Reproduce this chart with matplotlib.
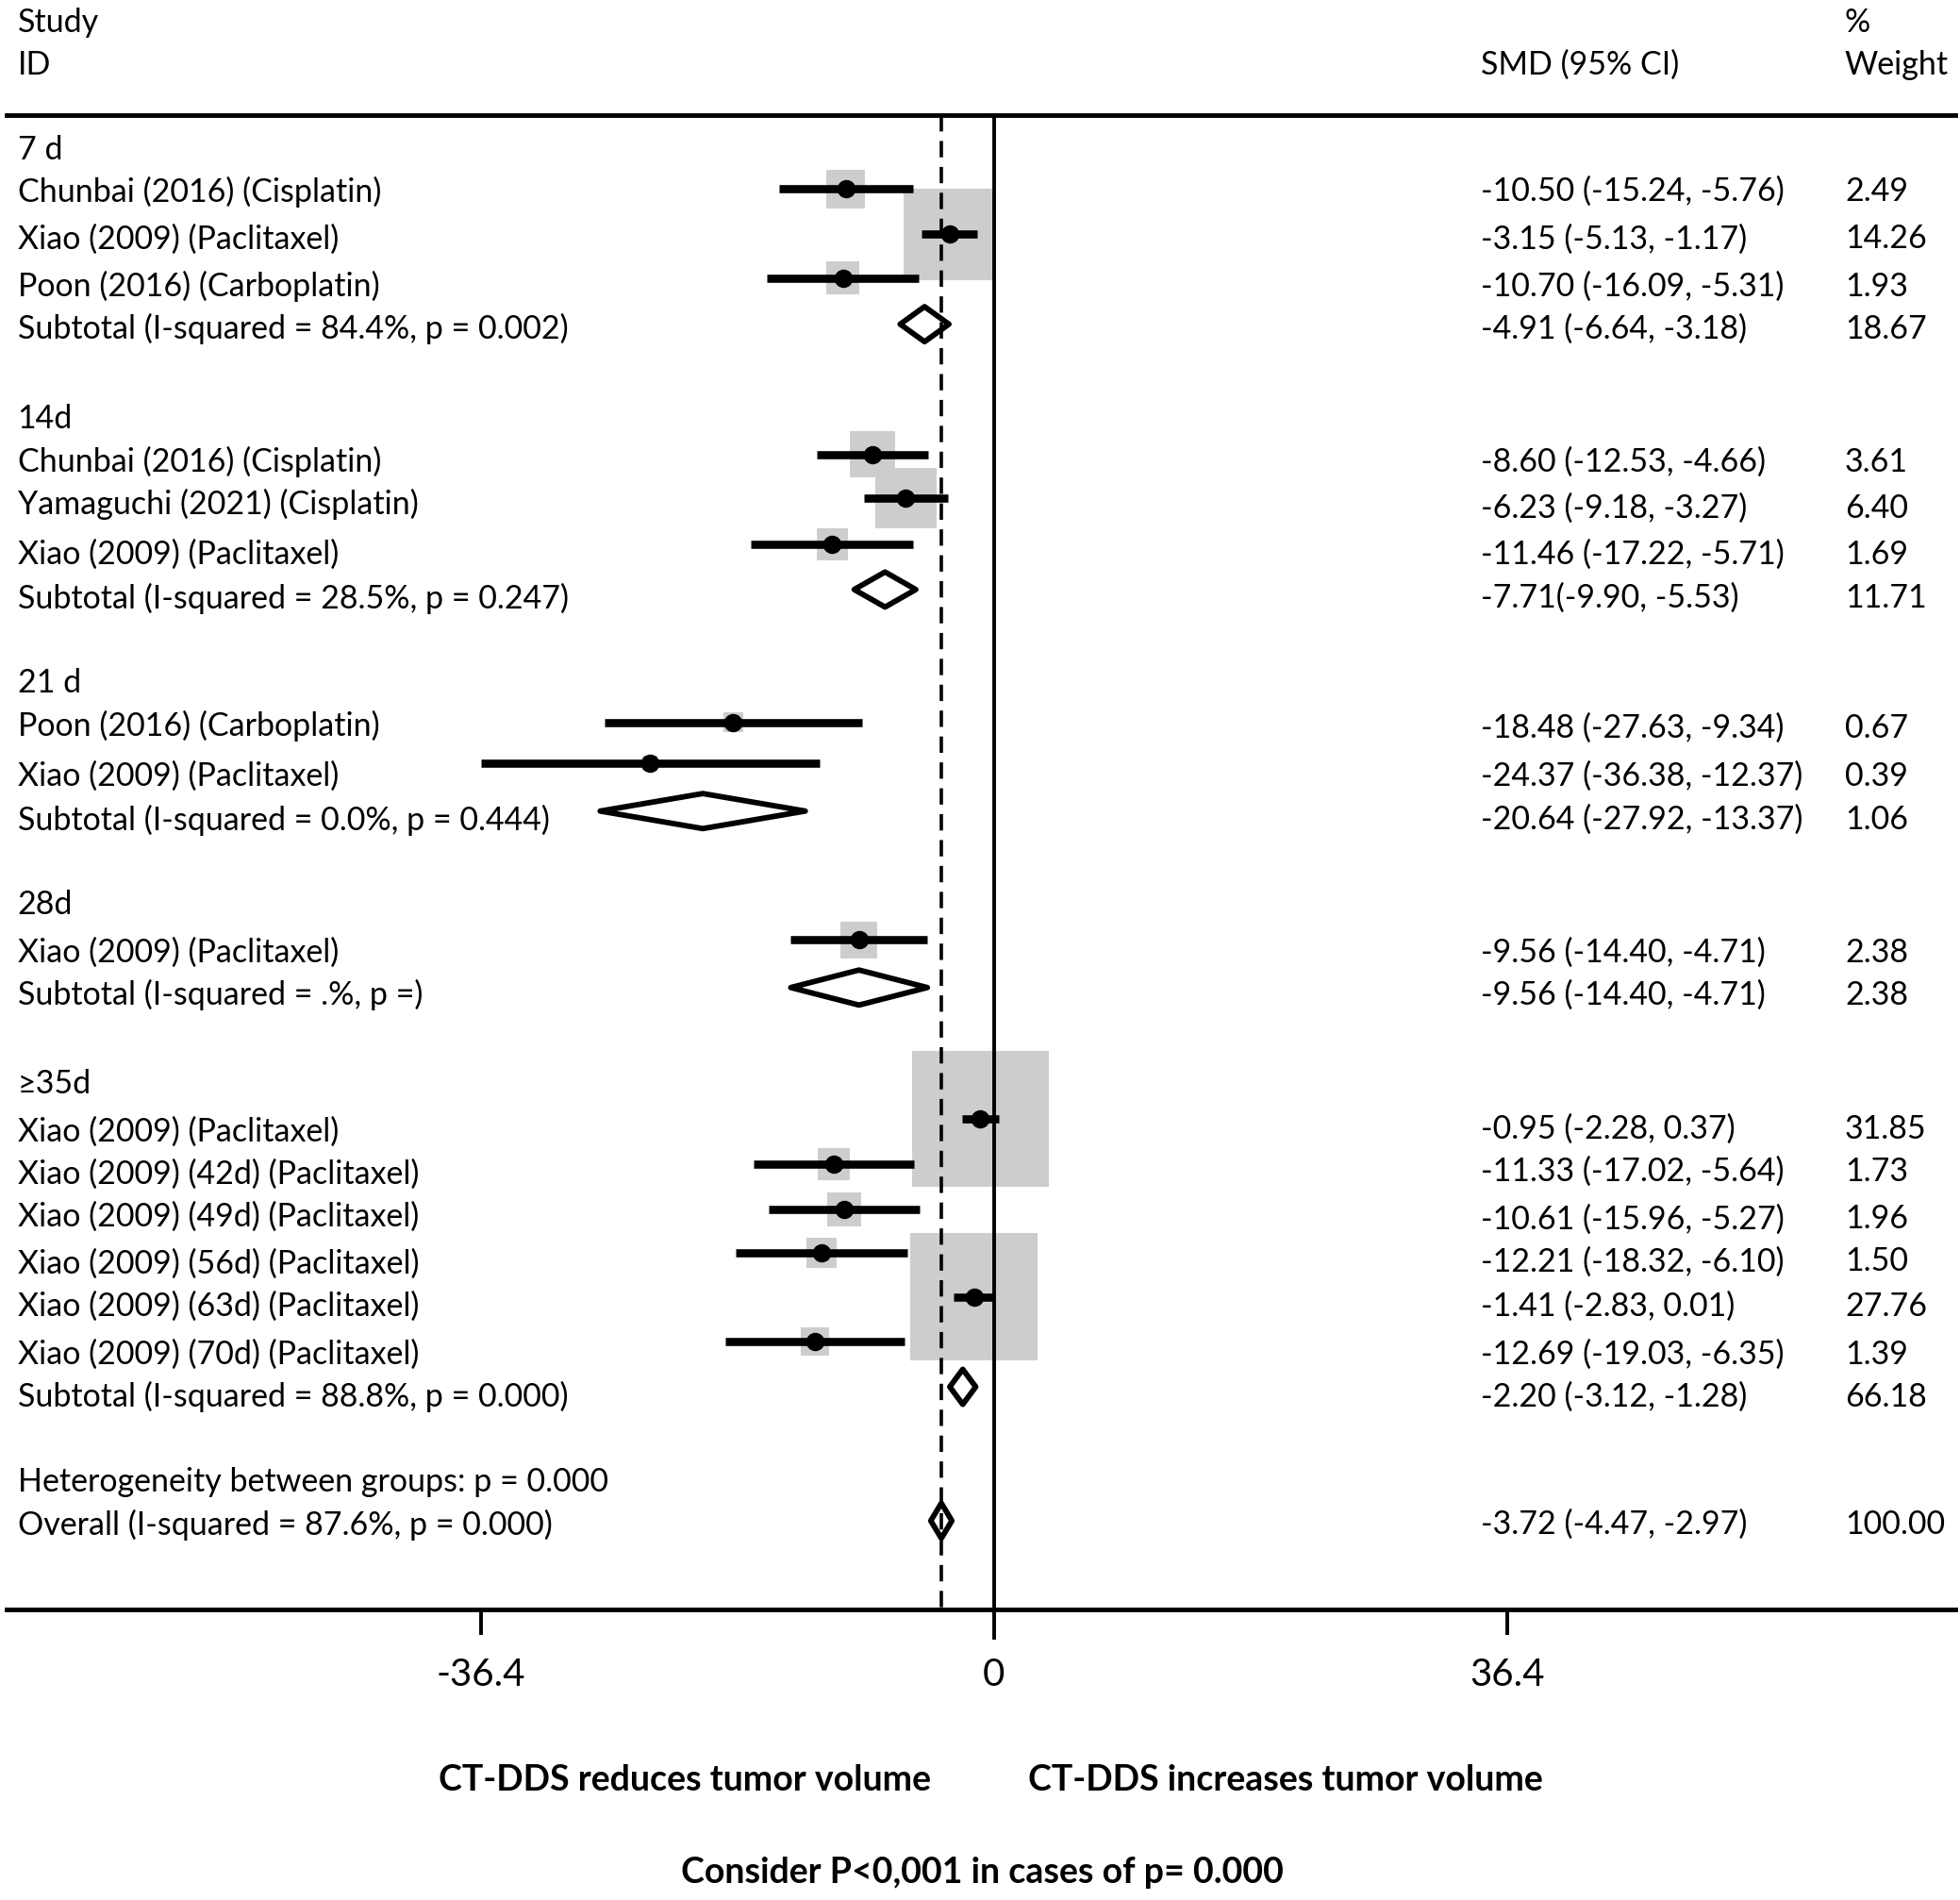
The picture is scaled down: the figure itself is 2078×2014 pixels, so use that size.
import matplotlib
matplotlib.use("Agg")
import matplotlib.pyplot as plt
from matplotlib.patches import Rectangle, Polygon
import numpy as np

plt.rcParams['font.family'] = ['Lato', 'DejaVu Sans']

# ---------------- data ----------------
group_labels = ["7 d", "14d", "21 d", "28d", "≥35d"]

study_labels = [
    "Chunbai (2016) (Cisplatin)", "Xiao (2009) (Paclitaxel)", "Poon (2016) (Carboplatin)",
    "Chunbai (2016) (Cisplatin)", "Yamaguchi (2021) (Cisplatin)", "Xiao (2009) (Paclitaxel)",
    "Poon (2016) (Carboplatin)", "Xiao (2009) (Paclitaxel)",
    "Xiao (2009) (Paclitaxel)",
    "Xiao (2009) (Paclitaxel)", "Xiao (2009) (42d) (Paclitaxel)", "Xiao (2009) (49d) (Paclitaxel)",
    "Xiao (2009) (56d) (Paclitaxel)", "Xiao (2009) (63d) (Paclitaxel)", "Xiao (2009) (70d) (Paclitaxel)",
]
study_est = [-10.50, -3.15, -10.70, -8.60, -6.23, -11.46, -18.48, -24.37, -9.56,
             -0.95, -11.33, -10.61, -12.21, -1.41, -12.69]
study_lo = [-15.24, -5.13, -16.09, -12.53, -9.18, -17.22, -27.63, -36.38, -14.40,
            -2.28, -17.02, -15.96, -18.32, -2.83, -19.03]
study_hi = [-5.76, -1.17, -5.31, -4.66, -3.27, -5.71, -9.34, -12.37, -4.71,
            0.37, -5.64, -5.27, -6.10, 0.01, -6.35]
study_weight = [2.49, 14.26, 1.93, 3.61, 6.40, 1.69, 0.67, 0.39, 2.38,
                31.85, 1.73, 1.96, 1.50, 27.76, 1.39]
study_ci_text = [
    "-10.50 (-15.24, -5.76)", "-3.15 (-5.13, -1.17)", "-10.70 (-16.09, -5.31)",
    "-8.60 (-12.53, -4.66)", "-6.23 (-9.18, -3.27)", "-11.46 (-17.22, -5.71)",
    "-18.48 (-27.63, -9.34)", "-24.37 (-36.38, -12.37)",
    "-9.56 (-14.40, -4.71)",
    "-0.95 (-2.28, 0.37)", "-11.33 (-17.02, -5.64)", "-10.61 (-15.96, -5.27)",
    "-12.21 (-18.32, -6.10)", "-1.41 (-2.83, 0.01)", "-12.69 (-19.03, -6.35)",
]
study_weight_text = ["2.49", "14.26", "1.93", "3.61", "6.40", "1.69", "0.67", "0.39", "2.38",
                     "31.85", "1.73", "1.96", "1.50", "27.76", "1.39"]

sub_labels = [
    "Subtotal (I-squared = 84.4%, p = 0.002)",
    "Subtotal (I-squared = 28.5%, p = 0.247)",
    "Subtotal (I-squared = 0.0%, p = 0.444)",
    "Subtotal (I-squared = .%, p =)",
    "Subtotal (I-squared = 88.8%, p = 0.000)",
]
sub_est = [-4.91, -7.71, -20.64, -9.56, -2.20]
sub_lo = [-6.64, -9.90, -27.92, -14.40, -3.12]
sub_hi = [-3.18, -5.53, -13.37, -4.71, -1.28]
sub_ci_text = ["-4.91 (-6.64, -3.18)", "-7.71(-9.90, -5.53)", "-20.64 (-27.92, -13.37)",
               "-9.56 (-14.40, -4.71)", "-2.20 (-3.12, -1.28)"]
sub_weight_text = ["18.67", "11.71", "1.06", "2.38", "66.18"]

het_label = "Heterogeneity between groups: p = 0.000"
overall_label = "Overall (I-squared = 87.6%, p = 0.000)"
overall_est, overall_lo, overall_hi = -3.72, -4.47, -2.97
overall_ci_text = "-3.72 (-4.47, -2.97)"
overall_weight_text = "100.00"

tick_values = [-36.4, 0, 36.4]
tick_labels = ["-36.4", "0", "36.4"]

# ---------------- layout (reference frame units, y downward) ----------------
W, H = 1566.0, 1518.0
PX_PER_UNIT = 11.264
X0 = 794.0
group_y = [120, 335, 546, 723, 866]
study_text_y = [153, 191, 229, 369, 403, 443, 580, 620, 761, 904, 938, 972, 1010, 1044, 1082]
study_mark_y = [151, 187, 222, 363, 398, 435, 577, 610, 751, 894, 930, 966, 1001, 1036, 1072]
study_val_y = [153, 191, 229, 369, 406, 443, 582, 620, 761, 902, 936, 974, 1008, 1044, 1082]
sub_text_y = [263, 478, 655, 795, 1116]
sub_mark_y = [259, 471, 648, 789, 1108]
het_y = 1184
overall_y = 1218
overall_mark_y = 1215
top_line_y, bottom_line_y = 92, 1286

x_label, x_ci, x_w = 14 / W, 1183 / W, 1474 / W
FS = 24.5
FS_TICK = 29
FS_BOLD = 27
GRAY = "#cdcdcd"

fig = plt.figure(figsize=(20.78, 20.14), dpi=100)
ax = fig.add_axes([0, 0, 1, 1])
ax.set_xlim(-X0 / PX_PER_UNIT, (W - X0) / PX_PER_UNIT)
ax.set_ylim(H, 0)
ax.axis("off")
trans = ax.get_yaxis_transform()  # x in axes fraction, y in data

# header
ax.text(x_label, 18, "Study", transform=trans, fontsize=FS, va="center", ha="left")
ax.text(x_label, 52, "ID", transform=trans, fontsize=FS, va="center", ha="left")
ax.text(x_ci, 52, "SMD (95% CI)", transform=trans, fontsize=FS, va="center", ha="left")
ax.text(x_w, 18, "%", transform=trans, fontsize=FS, va="center", ha="left")
ax.text(x_w, 52, "Weight", transform=trans, fontsize=FS, va="center", ha="left")

# frame lines
ax.axhline(top_line_y, xmin=5 / W, xmax=1562 / W, color="black", lw=3.5)
ax.axhline(bottom_line_y, xmin=5 / W, xmax=1562 / W, color="black", lw=3.5)

# boxes
for est, w, y in zip(study_est, study_weight, study_mark_y):
    side = 19.33 * np.sqrt(w)
    ax.add_patch(Rectangle((est - side / 2 / PX_PER_UNIT, y - side / 2), side / PX_PER_UNIT, side,
                           facecolor=GRAY, edgecolor="none", zorder=1))

# zero line & dashed overall line
ax.plot([0, 0], [top_line_y, 1310], color="black", lw=2.8, zorder=2, solid_capstyle="butt")
ax.plot([overall_est, overall_est], [top_line_y, bottom_line_y], color="black", lw=2.6,
        linestyle=(0, (4.8, 2.8)), zorder=6)

# CI lines and points
for est, lo, hi, y in zip(study_est, study_lo, study_hi, study_mark_y):
    ax.plot([lo, hi], [y, y], color="black", lw=6.2, solid_capstyle="butt", zorder=3)
    ax.plot([est], [y], marker="o", color="black", markersize=13, zorder=4)

# diamonds
DH = 14
for est, lo, hi, y in zip(sub_est + [overall_est], sub_lo + [overall_lo], sub_hi + [overall_hi],
                          sub_mark_y + [overall_mark_y]):
    ax.add_patch(Polygon([(lo, y), (est, y - DH), (hi, y), (est, y + DH)], closed=True,
                         facecolor="white", edgecolor="black", lw=4.2, joinstyle="round", zorder=5))

# texts
for lab, y in zip(group_labels, group_y):
    ax.text(x_label, y, lab, transform=trans, fontsize=FS, va="center")
for lab, ci, wt, ty, vy in zip(study_labels, study_ci_text, study_weight_text, study_text_y, study_val_y):
    ax.text(x_label, ty, lab, transform=trans, fontsize=FS, va="center")
    ax.text(x_ci, vy, ci, transform=trans, fontsize=FS, va="center")
    ax.text(x_w, vy, wt, transform=trans, fontsize=FS, va="center")
for lab, ci, wt, ty in zip(sub_labels, sub_ci_text, sub_weight_text, sub_text_y):
    ax.text(x_label, ty, lab, transform=trans, fontsize=FS, va="center")
    ax.text(x_ci, ty, ci, transform=trans, fontsize=FS, va="center")
    ax.text(x_w, ty, wt, transform=trans, fontsize=FS, va="center")
ax.text(x_label, het_y, het_label, transform=trans, fontsize=FS, va="center")
ax.text(x_label, overall_y, overall_label, transform=trans, fontsize=FS, va="center")
ax.text(x_ci, overall_y, overall_ci_text, transform=trans, fontsize=FS, va="center")
ax.text(x_w, overall_y, overall_weight_text, transform=trans, fontsize=FS, va="center")

# x ticks
for tv, tl in zip(tick_values, tick_labels):
    if tv != 0:
        ax.plot([tv, tv], [bottom_line_y, 1306], color="black", lw=2.8, solid_capstyle="butt")
    ax.text(tv, 1338, tl, fontsize=FS_TICK, ha="center", va="center")

ax.text(-21.9, 1422, "CT-DDS reduces tumor volume", fontsize=FS_BOLD, fontweight="bold", ha="center", va="center")
ax.text(20.7, 1422, "CT-DDS increases tumor volume", fontsize=FS_BOLD, fontweight="bold", ha="center", va="center")
ax.text(-0.8, 1496, "Consider P<0,001 in cases of p= 0.000", fontsize=FS_BOLD, fontweight="bold", ha="center", va="center")

fig.savefig("out.png", dpi=100, facecolor="white")
